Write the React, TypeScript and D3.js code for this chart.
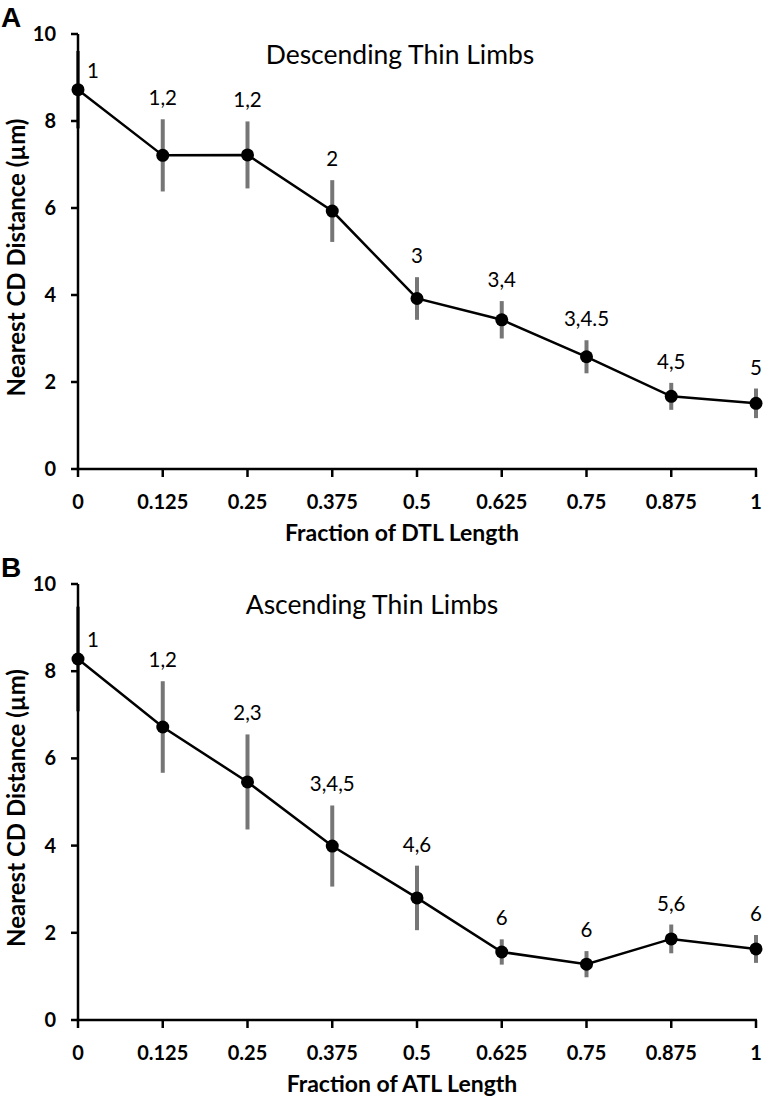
import React from "react";
import * as d3 from "d3";

const xFractions = [0, 0.125, 0.25, 0.375, 0.5, 0.625, 0.75, 0.875, 1];
const xTickLabels = ["0", "0.125", "0.25", "0.375", "0.5", "0.625", "0.75", "0.875", "1"];
const yTicks = [0, 2, 4, 6, 8, 10];

const dtlMeans = [8.72, 7.21, 7.22, 5.93, 3.92, 3.43, 2.58, 1.67, 1.51];
const dtlErrors = [0.89, 0.83, 0.77, 0.71, 0.49, 0.43, 0.38, 0.31, 0.34];
const dtlLabels = ["1", "1,2", "1,2", "2", "3", "3,4", "3,4.5", "4,5", "5"];

const atlMeans = [8.28, 6.72, 5.46, 3.99, 2.8, 1.56, 1.28, 1.86, 1.63];
const atlErrors = [1.2, 1.05, 1.09, 0.93, 0.74, 0.29, 0.3, 0.33, 0.32];
const atlLabels = ["1", "1,2", "2,3", "3,4,5", "4,6", "6", "6", "5,6", "6"];

const FONT = "Lato, 'Open Sans', sans-serif";

type PanelProps = {
  letter: string;
  title: string;
  xTitle: string;
  means: number[];
  errors: number[];
  labels: string[];
  top: number; // y of value 10
  bottom: number; // y of value 0
  titleX: number;
};

function Panel({ letter, title, xTitle, means, errors, labels, top, bottom, titleX }: PanelProps) {
  const x = d3.scaleLinear().domain([0, 1]).range([78, 756]);
  const y = d3.scaleLinear().domain([0, 10]).range([bottom, top]);
  const pts = xFractions.map((f, i) => [x(f), y(means[i])] as [number, number]);
  const line = d3.line()(pts) || "";
  return (
    <g>
      <text x={1} y={top - 7} fontFamily="'Liberation Sans', Arial, sans-serif" fontWeight="bold" fontSize={28} fill="#000">
        {letter}
      </text>
      <text x={titleX} y={top + 30} textAnchor="middle" fontFamily={FONT} fontSize={26.5} fill="#000">
        {title}
      </text>
      {/* error bars */}
      {xFractions.map((f, i) => (
        <line
          key={"e" + i}
          x1={x(f)}
          x2={x(f)}
          y1={y(means[i] + errors[i])}
          y2={y(means[i] - errors[i])}
          stroke="#767676"
          strokeWidth={4}
        />
      ))}
      {/* axes */}
      <line x1={x(0)} x2={x(0)} y1={y(10)} y2={y(0)} stroke="#000" strokeWidth={2.5} />
      <line x1={x(0) - 1.25} x2={x(1) + 1} y1={y(0)} y2={y(0)} stroke="#000" strokeWidth={2.5} />
      {yTicks.map((t) => (
        <g key={"yt" + t}>
          <line x1={x(0) - 7} x2={x(0)} y1={y(t)} y2={y(t)} stroke="#000" strokeWidth={2.5} />
          <text x={56} y={y(t) + 7} textAnchor="end" fontFamily={FONT} fontWeight="bold" fontSize={20} fill="#000">
            {t}
          </text>
        </g>
      ))}
      {xFractions.map((f, i) => (
        <g key={"xt" + i}>
          <line x1={x(f)} x2={x(f)} y1={y(0)} y2={y(0) + 8} stroke="#000" strokeWidth={2.5} />
          <text x={x(f)} y={y(0) + 40} textAnchor="middle" fontFamily={FONT} fontWeight="bold" fontSize={20} fill="#000">
            {xTickLabels[i]}
          </text>
        </g>
      ))}
      <text x={402} y={y(0) + 72} textAnchor="middle" fontFamily={FONT} fontWeight="bold" fontSize={23} fill="#000">
        {xTitle}
      </text>
      <text
        transform={`translate(25, ${(y(0) + y(10)) / 2 + 6}) rotate(-90)`}
        textAnchor="middle"
        fontFamily={FONT}
        fontWeight="bold"
        fontSize={24}
        fill="#000"
      >
        Nearest CD Distance (µm)
      </text>
      {/* series line */}
      <path d={line} fill="none" stroke="#000" strokeWidth={2.5} />
      {pts.map((p, i) => (
        <circle key={"c" + i} cx={p[0]} cy={p[1]} r={6.5} fill="#000" />
      ))}
      {/* significance labels */}
      {xFractions.map((f, i) => {
        const lx = i === 0 ? x(f) + 15 : x(f);
        const ly = i === 0 ? y(means[i]) - 12 : y(means[i] + errors[i]) - 14;
        return (
          <text key={"l" + i} x={lx} y={ly} textAnchor="middle" fontFamily={FONT} fontSize={20.5} fill="#000">
            {labels[i]}
          </text>
        );
      })}
    </g>
  );
}

export default function App() {
  return (
    <svg
      width={763}
      height={1097}
      viewBox="0 0 763 1097"
      style={{ position: "absolute", left: 0, top: 0, background: "#fff" }}
    >
      <rect width={763} height={1097} fill="#fff" />
      <Panel
        letter="A"
        title="Descending Thin Limbs"
        xTitle="Fraction of DTL Length"
        means={dtlMeans}
        errors={dtlErrors}
        labels={dtlLabels}
        top={34}
        bottom={469}
        titleX={400}
      />
      <Panel
        letter="B"
        title="Ascending Thin Limbs"
        xTitle="Fraction of ATL Length"
        means={atlMeans}
        errors={atlErrors}
        labels={atlLabels}
        top={584}
        bottom={1020}
        titleX={372}
      />
    </svg>
  );
}
